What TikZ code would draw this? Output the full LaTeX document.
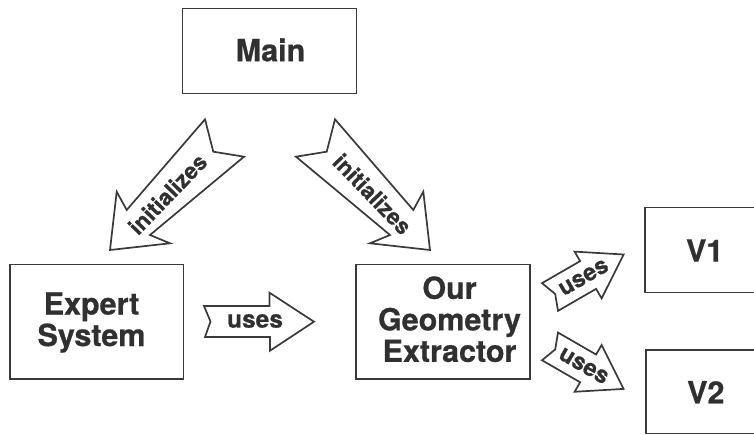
\documentclass[tikz,border=0pt]{standalone}
\usepackage{fontspec}
\setmainfont{TeX Gyre Heros}[BoldFeatures={FakeBold=0.6}]
\definecolor{ink}{HTML}{303030}
\definecolor{edge}{HTML}{3A3A3A}
\begin{document}
\begin{tikzpicture}[x=1pt,y=-1pt,
  box/.style={draw=edge, line width=1.9pt, inner sep=0pt},
  boxtext/.style={text=ink, font=\bfseries\fontsize{30.5}{31.5}\selectfont, align=center, inner sep=0pt},
  blockarrow/.style={draw=edge, line width=1.7pt, fill=white, line join=miter},
  arrowtext/.style={text=ink, font=\bfseries\fontsize{#1}{#1}\selectfont, inner sep=0pt},
]
\fill[white] (0,0) rectangle (754,435);
\useasboundingbox (0,0) rectangle (754,435);
\clip (0,0) rectangle (754,435);

% boxes
\node[box, minimum width=174pt, minimum height=85pt] (main) at (269.5,51) {};
\node[box, minimum width=173.5pt, minimum height=114.5pt] (expert) at (96.75,321.75) {};
\node[box, minimum width=174pt, minimum height=114.5pt] (oge) at (443,321.75) {};
\node[box, minimum width=120pt, minimum height=85pt] (v1) at (705,250) {};
\node[box, minimum width=120pt, minimum height=83.5pt] (v2) at (706,391.75) {};

% box texts
\node[boxtext] (maint) at (270.5,50) {Main};
\node[boxtext] (expertt) at (91.5,322.5) {Expert\\System};
\node[boxtext] (oget) at (449.5,319.2) {Our\\Geometry\\Extractor};
\node[boxtext] (v1t) at (704.7,250.5) {V1};
\node[boxtext] (v2t) at (705.8,392.2) {V2};

% initializes arrows
\draw[blockarrow] (205,119.3) -- (213.3,151.7) -- (244,156.7) -- (150,235) -- (170,243.3)
  -- (110,250) -- (116.7,191.7) -- (126.7,210) -- cycle;
\node[arrowtext=22.5, rotate=46] (init1) at (167.5,194) {initializes};

\draw[blockarrow] (335,119.3) -- (326.7,151.7) -- (296,156.7) -- (390,235) -- (370,243.3)
  -- (430,250) -- (423.3,191.7) -- (413.3,210) -- cycle;
\node[arrowtext=22.5, rotate=-46] (init2) at (372.5,194) {initializes};

% horizontal uses arrow
\draw[blockarrow] (204,306) -- (269.5,306) -- (269.5,292.7) -- (314,321.7) -- (270,350.7)
  -- (270,337) -- (205,337) -- (210.5,321.5) -- cycle;
\node[arrowtext=24.5] (uses1) at (255,321) {uses};

% uses to V1
\begin{scope}[shift={(550,297)}, rotate=30]
\draw[blockarrow] (0,16) -- (44,16) -- (44,27) -- (85,0) -- (44,-27) -- (44,-16) -- (0,-16) -- (6,0) -- cycle;
\node[arrowtext=23.5, rotate=30] (uses2) at (39,0) {uses};
\end{scope}

% uses to V2
\begin{scope}[shift={(550,346.4)}, rotate=-30]
\draw[blockarrow] (0,16) -- (44,16) -- (44,27) -- (85,0) -- (44,-27) -- (44,-16) -- (0,-16) -- (6,0) -- cycle;
\node[arrowtext=23.5, rotate=-30] (uses3) at (39,0) {uses};
\end{scope}
\end{tikzpicture}
\end{document}
